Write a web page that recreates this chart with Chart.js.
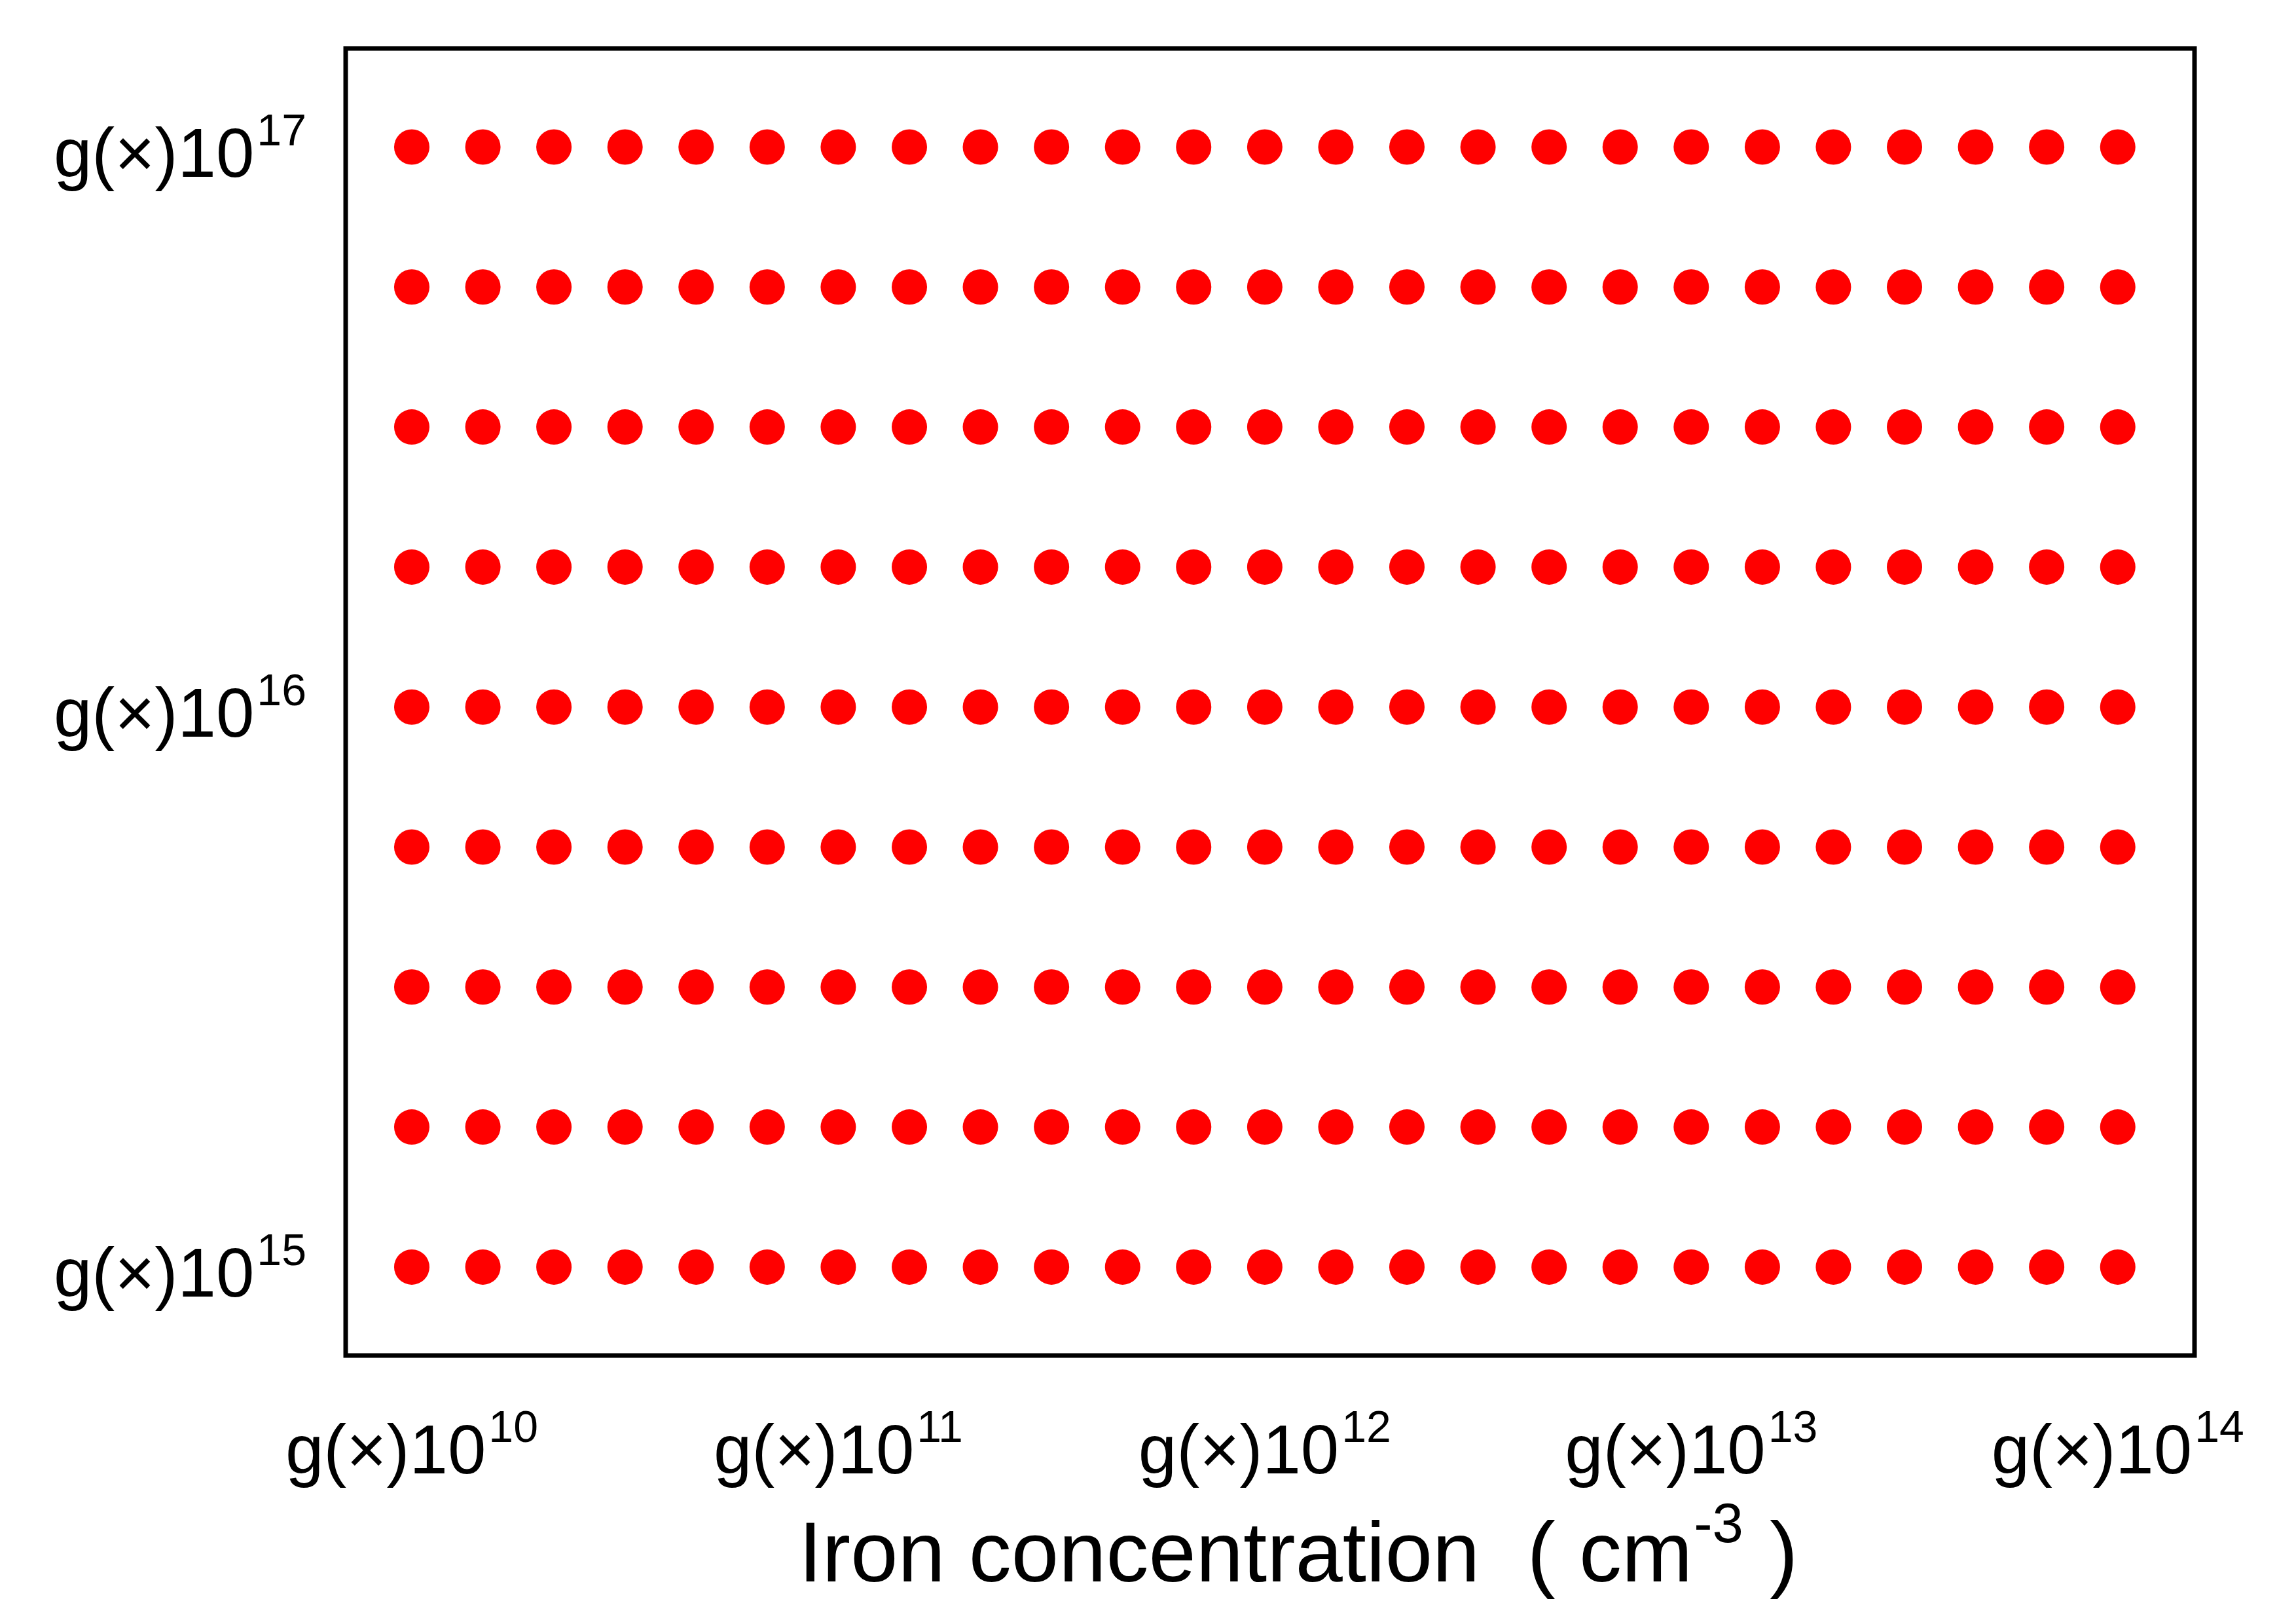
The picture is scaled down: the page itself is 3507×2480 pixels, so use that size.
<!DOCTYPE html>
<html>
<head>
<meta charset="utf-8">
<script src="https://cdn.jsdelivr.net/npm/chart.js@4"></script>
<style>
  html, body { margin: 0; padding: 0; background: #fff; }
  #wrap { width: 3507px; height: 2480px; }
</style>
</head>
<body>
<div id="wrap"><canvas id="chart-grid"></canvas></div>
<script>
// grid of sample points: iron concentration (x) vs doping (y), both log
const xExponents = [10, 10.1667, 10.3333, 10.5, 10.6667, 10.8333,
  11, 11.1667, 11.3333, 11.5, 11.6667, 11.8333,
  12, 12.1667, 12.3333, 12.5, 12.6667, 12.8333,
  13, 13.1667, 13.3333, 13.5, 13.6667, 13.8333, 14];
const yExponents = [15, 15.25, 15.5, 15.75, 16, 16.25, 16.5, 16.75, 17];
const xTickExp = [10, 11, 12, 13, 14];
const yTickExp = [15, 16, 17];

const points = [];
yExponents.forEach(ye => {
  xExponents.forEach(xe => points.push({ x: Math.pow(10, xe), y: Math.pow(10, ye) }));
});

const font = "'Liberation Sans', Arial, sans-serif";

// draws "g(×)10^n" with a real superscript
function drawPower(ctx, exp, x, y, align) {
  ctx.font = `105px ${font}`;
  const base = 'g(×)10';
  const wBase = ctx.measureText(base).width;
  ctx.font = `68px ${font}`;
  const wSup = ctx.measureText(String(exp)).width;
  const total = wBase + 4 + wSup;
  let left = x;
  if (align === 'center') left = x - total / 2;
  if (align === 'right') left = x - total;
  ctx.textAlign = 'left';
  ctx.textBaseline = 'alphabetic';
  ctx.font = `105px ${font}`;
  ctx.fillText(base, left, y);
  ctx.font = `68px ${font}`;
  ctx.fillText(String(exp), left + wBase + 4, y - 48);
}

const frameAndLabels = {
  id: 'frameAndLabels',
  afterDraw(chart) {
    const { ctx, chartArea: { top, bottom, left, right }, scales: { x, y } } = chart;
    ctx.save();
    ctx.strokeStyle = '#000';
    ctx.lineWidth = 7;
    ctx.strokeRect(left, top, right - left, bottom - top);

    ctx.fillStyle = '#000';
    xTickExp.forEach(e => {
      drawPower(ctx, e, x.getPixelForValue(Math.pow(10, e)), 2250, 'center');
    });
    yTickExp.forEach(e => {
      drawPower(ctx, e, 468, y.getPixelForValue(Math.pow(10, e)) + 45, 'right');
    });

    // axis title with superscript
    const t1 = 'Iron concentration  ( cm';
    const t2 = '-3';
    const t3 = ' )';
    ctx.font = `130px ${font}`;
    const w1 = ctx.measureText(t1).width;
    const w3 = ctx.measureText(t3).width;
    ctx.font = `85px ${font}`;
    const w2 = ctx.measureText(t2).width;
    let cx = (left + right) / 2 - (w1 + w2 + w3) / 2 + 40;
    const by = 2415;
    ctx.font = `130px ${font}`;
    ctx.fillText(t1, cx, by);
    ctx.font = `85px ${font}`;
    ctx.fillText(t2, cx + w1 + 2, by - 60);
    ctx.font = `130px ${font}`;
    ctx.fillText(t3, cx + w1 + w2 + 6, by);
    ctx.restore();
  }
};

new Chart(document.getElementById('chart-grid'), {
  type: 'scatter',
  data: {
    datasets: [{
      data: points,
      backgroundColor: '#ff0000',
      borderWidth: 0,
      pointRadius: 27,
      pointHoverRadius: 27
    }]
  },
  options: {
    responsive: true,
    maintainAspectRatio: false,
    animation: false,
    devicePixelRatio: 1,
    layout: { padding: { left: 528, top: 74, right: 155, bottom: 410 } },
    plugins: { legend: { display: false }, tooltip: { enabled: false } },
    scales: {
      x: {
        type: 'logarithmic',
        min: Math.pow(10, 9.845),
        max: Math.pow(10, 14.18),
        display: false
      },
      y: {
        type: 'logarithmic',
        min: Math.pow(10, 14.842),
        max: Math.pow(10, 17.176),
        display: false
      }
    }
  },
  plugins: [frameAndLabels]
});
</script>
</body>
</html>
